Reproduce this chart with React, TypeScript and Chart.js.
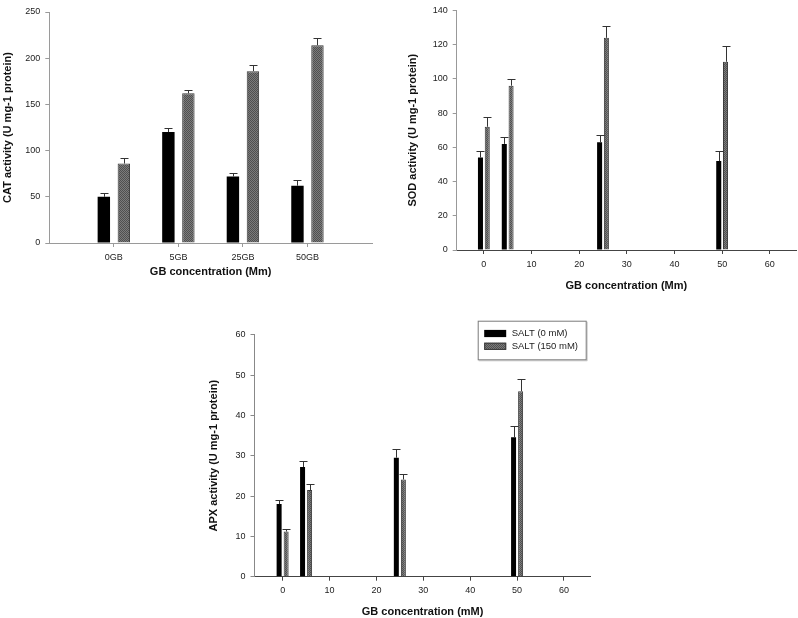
import React, { useEffect, useRef } from 'react';
import { Chart, registerables } from 'chart.js';

Chart.register(...registerables);

// ---- Data ----
const seriesLabels = ['SALT (0 mM)', 'SALT (150 mM)'];

const catLabels = ['0GB', '5GB', '25GB', '50GB'];
const catSalt0 = [50, 120, 72, 62];
const catSalt0Err = [4, 4, 4, 6];
const catSalt150 = [86, 162, 186, 214];
const catSalt150Err = [6, 3.5, 7, 8];

const gbConc = [0, 5, 25, 50];
const gbTicks = [0, 10, 20, 30, 40, 50, 60];
const sodSalt0 = [54, 62, 63, 52];
const sodSalt0Err = [4, 4, 4, 6];
const sodSalt150 = [72, 96, 124, 110];
const sodSalt150Err = [6, 4, 7, 9];

const apxSalt0 = [18, 27.2, 29.5, 34.6];
const apxSalt0Err = [0.9, 1.4, 2.1, 2.8];
const apxSalt150 = [11.2, 21.5, 24.1, 46];
const apxSalt150Err = [0.7, 1.6, 1.3, 3.1];

const FONT = "'Liberation Sans', Arial, Helvetica, sans-serif";

function makePattern(): CanvasPattern | string {
  const c = document.createElement('canvas');
  c.width = 2;
  c.height = 2;
  const g = c.getContext('2d');
  if (!g) return '#666';
  g.fillStyle = '#7c7c7c';
  g.fillRect(0, 0, 2, 2);
  g.fillStyle = '#505050';
  g.fillRect(0, 0, 1, 1);
  g.fillRect(1, 1, 1, 1);
  return g.createPattern(c, 'repeat') || '#666';
}

const errorBarPlugin = {
  id: 'errorBars',
  afterDatasetsDraw(chart: any, _args: any, opts: any) {
    const ctx = chart.ctx;
    const yScale = chart.scales.y;
    const capHalf = (opts && opts.capHalf) || 4;
    chart.data.datasets.forEach((ds: any, i: number) => {
      const errs = ds.errors as number[] | undefined;
      if (!errs) return;
      const meta = chart.getDatasetMeta(i);
      ctx.save();
      ctx.strokeStyle = '#333';
      ctx.lineWidth = 1;
      meta.data.forEach((bar: any, j: number) => {
        const v = ds.data[j].y as number;
        const top = Math.round(yScale.getPixelForValue(v + errs[j])) + 0.5;
        const x = Math.round(bar.x) + 0.5;
        ctx.beginPath();
        ctx.moveTo(x, bar.y);
        ctx.lineTo(x, top);
        ctx.moveTo(x - capHalf, top);
        ctx.lineTo(x + capHalf, top);
        ctx.stroke();
      });
      ctx.restore();
    });
  },
};

const boxLegendPlugin = {
  id: 'boxLegend',
  afterDraw(chart: any, _args: any, opts: any) {
    if (!opts || !opts.box) return;
    const ctx = chart.ctx;
    const b = opts.box;
    ctx.save();
    ctx.fillStyle = '#ffffff';
    ctx.fillRect(b.x, b.y, b.w, b.h);
    ctx.strokeStyle = '#c8c8c8';
    ctx.lineWidth = 1;
    ctx.beginPath();
    ctx.moveTo(b.x + b.w + 1.5, b.y + 1);
    ctx.lineTo(b.x + b.w + 1.5, b.y + b.h + 1.5);
    ctx.lineTo(b.x + 1, b.y + b.h + 1.5);
    ctx.stroke();
    ctx.strokeStyle = '#7a7a7a';
    ctx.strokeRect(b.x + 0.5, b.y + 0.5, b.w, b.h);
    chart.data.datasets.forEach((ds: any, i: number) => {
      const cy = b.y + opts.rows[i];
      ctx.fillStyle = ds.backgroundColor;
      ctx.fillRect(b.x + 6.5, cy - 3.6, 22, 7.2);
      if (ds.borderWidth) {
        ctx.strokeStyle = ds.borderColor;
        ctx.strokeRect(b.x + 7, cy - 3.1, 21, 6.2);
      }
      ctx.fillStyle = '#222';
      ctx.font = `9.5px ${FONT}`;
      ctx.textBaseline = 'middle';
      ctx.textAlign = 'left';
      ctx.fillText(ds.label, b.x + 34, cy);
    });
    ctx.restore();
  },
};

type Spec = {
  canvas: { left: number; top: number; width: number; height: number };
  area: { l: number; t: number; r: number; b: number };
  yTitleX: number;
  xTitleY: number;
  yTitle: string;
  xTitle: string;
  yMax: number;
  yStep: number;
  xMin: number;
  xMax: number;
  xTickValues: number[];
  xLabel: (v: number) => string;
  xs: number[];
  s0: number[];
  s0e: number[];
  s1: number[];
  s1e: number[];
  catPct: number;
  barPct: number;
  capHalf: number;
  xColor: string;
  yColor: string;
  xTickPad: number;
  legend?: { box: { x: number; y: number; w: number; h: number }; rows: number[] };
};

function buildConfig(spec: Spec): any {
  const { canvas, area } = spec;
  const lh = 11 * 1.2;
  const canvasBottom = canvas.top + canvas.height;
  const xAxisBottom = Math.min(canvasBottom, spec.xTitleY + lh / 2 + 2);
  const titlePadBottom = xAxisBottom - spec.xTitleY - lh / 2;
  const hx = xAxisBottom - area.b;
  const yAxisWidth = area.l - canvas.left;
  const yTitlePad = spec.yTitleX - canvas.left - lh / 2;
  const pattern = makePattern();

  return {
    type: 'bar',
    data: {
      datasets: [
        {
          label: seriesLabels[0],
          data: spec.xs.map((x, i) => ({ x, y: spec.s0[i] })),
          errors: spec.s0e,
          backgroundColor: '#000000',
          borderWidth: 0,
          categoryPercentage: spec.catPct,
          barPercentage: spec.barPct,
        },
        {
          label: seriesLabels[1],
          data: spec.xs.map((x, i) => ({ x, y: spec.s1[i] })),
          errors: spec.s1e,
          backgroundColor: pattern,
          borderColor: '#3a3a3a',
          borderWidth: 1,
          categoryPercentage: spec.catPct,
          barPercentage: spec.barPct,
        },
      ],
    },
    options: {
      animation: false,
      responsive: false,
      devicePixelRatio: 1,
      layout: {
        padding: {
          left: 0,
          top: area.t - canvas.top,
          right: canvas.left + canvas.width - area.r,
          bottom: canvasBottom - xAxisBottom,
        },
      },
      plugins: {
        legend: { display: false },
        tooltip: { enabled: false },
        errorBars: { capHalf: spec.capHalf },
        boxLegend: spec.legend || {},
      },
      scales: {
        x: {
          type: 'linear',
          offset: false,
          bounds: 'data',
          min: spec.xMin,
          max: spec.xMax,
          afterBuildTicks: (axis: any) => {
            axis.ticks = spec.xTickValues.map((v) => ({ value: v }));
          },
          afterFit: (axis: any) => {
            axis.height = hx;
          },
          ticks: {
            autoSkip: false,
            maxRotation: 0,
            padding: spec.xTickPad,
            color: '#222',
            font: { family: FONT, size: 9 },
            callback: (v: any) => spec.xLabel(Number(v)),
          },
          grid: {
            display: true,
            offset: false,
            drawOnChartArea: false,
            drawTicks: true,
            tickLength: 4,
            color: spec.xColor,
          },
          border: { display: true, color: spec.xColor, width: 1 },
          title: {
            display: true,
            text: spec.xTitle,
            color: '#111',
            font: { family: FONT, size: 11, weight: 'bold' },
            padding: { top: 0, bottom: titlePadBottom },
          },
        },
        y: {
          type: 'linear',
          min: 0,
          max: spec.yMax,
          afterFit: (axis: any) => {
            axis.width = yAxisWidth;
          },
          ticks: {
            stepSize: spec.yStep,
            padding: 5,
            color: '#222',
            font: { family: FONT, size: 9 },
          },
          grid: {
            display: true,
            drawOnChartArea: false,
            drawTicks: true,
            tickLength: 4,
            color: spec.yColor,
          },
          border: { display: true, color: spec.yColor, width: 1 },
          title: {
            display: true,
            text: spec.yTitle,
            color: '#111',
            font: { family: FONT, size: 11, weight: 'bold' },
            padding: { top: yTitlePad, bottom: 0 },
          },
        },
      },
    },
    plugins: [errorBarPlugin, boxLegendPlugin],
  };
}

const catSpec: Spec = {
  canvas: { left: 0, top: 0, width: 400, height: 300 },
  area: { l: 49.3, t: 12, r: 372, b: 243 },
  yTitleX: 8,
  xTitleY: 272,
  yTitle: 'CAT activity (U mg-1 protein)',
  xTitle: 'GB concentration (Mm)',
  yMax: 250,
  yStep: 50,
  xMin: 0,
  xMax: 5,
  xTickValues: catLabels.map((_, i) => i + 1),
  xLabel: (v) => catLabels[v - 1] ?? '',
  xs: catLabels.map((_, i) => i + 1),
  s0: catSalt0,
  s0e: catSalt0Err,
  s1: catSalt150,
  s1e: catSalt150Err,
  catPct: 0.62,
  barPct: 0.62,
  capHalf: 4,
  xColor: '#9a9a9a',
  yColor: '#9a9a9a',
  xTickPad: 5,
};

const sodSpec: Spec = {
  canvas: { left: 400, top: 0, width: 398, height: 300 },
  area: { l: 456.7, t: 6.7, r: 796, b: 250 },
  yTitleX: 412.5,
  xTitleY: 285.5,
  yTitle: 'SOD activity (U mg-1 protein)',
  xTitle: 'GB concentration (Mm)',
  yMax: 140,
  yStep: 20,
  xMin: -5.7,
  xMax: 65.5,
  xTickValues: gbTicks,
  xLabel: (v) => String(v),
  xs: gbConc,
  s0: sodSalt0,
  s0e: sodSalt0Err,
  s1: sodSalt150,
  s1e: sodSalt150Err,
  catPct: 0.57,
  barPct: 0.74,
  capHalf: 4,
  xColor: '#444',
  yColor: '#999',
  xTickPad: 5.6,
};

const apxSpec: Spec = {
  canvas: { left: 150, top: 310, width: 470, height: 308 },
  area: { l: 254.5, t: 334.7, r: 590.7, b: 576.7 },
  yTitleX: 213.7,
  xTitleY: 611.7,
  yTitle: 'APX activity (U mg-1 protein)',
  xTitle: 'GB concentration (mM)',
  yMax: 60,
  yStep: 10,
  xMin: -6,
  xMax: 65.7,
  xTickValues: gbTicks,
  xLabel: (v) => String(v),
  xs: gbConc,
  s0: apxSalt0,
  s0e: apxSalt0Err,
  s1: apxSalt150,
  s1e: apxSalt150Err,
  catPct: 0.6,
  barPct: 0.71,
  capHalf: 4,
  xColor: '#444',
  yColor: '#888',
  xTickPad: 4.6,
  legend: { box: { x: 327.7, y: 10.7, w: 108, h: 38.6 }, rows: [12.8, 25.6] },
};

function ChartBox({ spec }: { spec: Spec }) {
  const ref = useRef<HTMLCanvasElement>(null);
  useEffect(() => {
    if (!ref.current) return;
    const chart = new Chart(ref.current, buildConfig(spec));
    return () => chart.destroy();
  }, [spec]);
  const { left, top, width, height } = spec.canvas;
  return (
    <canvas
      ref={ref}
      width={width}
      height={height}
      style={{ position: 'absolute', left, top, width, height, display: 'block' }}
    />
  );
}

export default function App() {
  return (
    <div
      style={{
        position: 'absolute',
        left: 0,
        top: 0,
        width: 798,
        height: 618,
        overflow: 'hidden',
        background: '#ffffff',
      }}
    >
      <ChartBox spec={catSpec} />
      <ChartBox spec={sodSpec} />
      <ChartBox spec={apxSpec} />
    </div>
  );
}
